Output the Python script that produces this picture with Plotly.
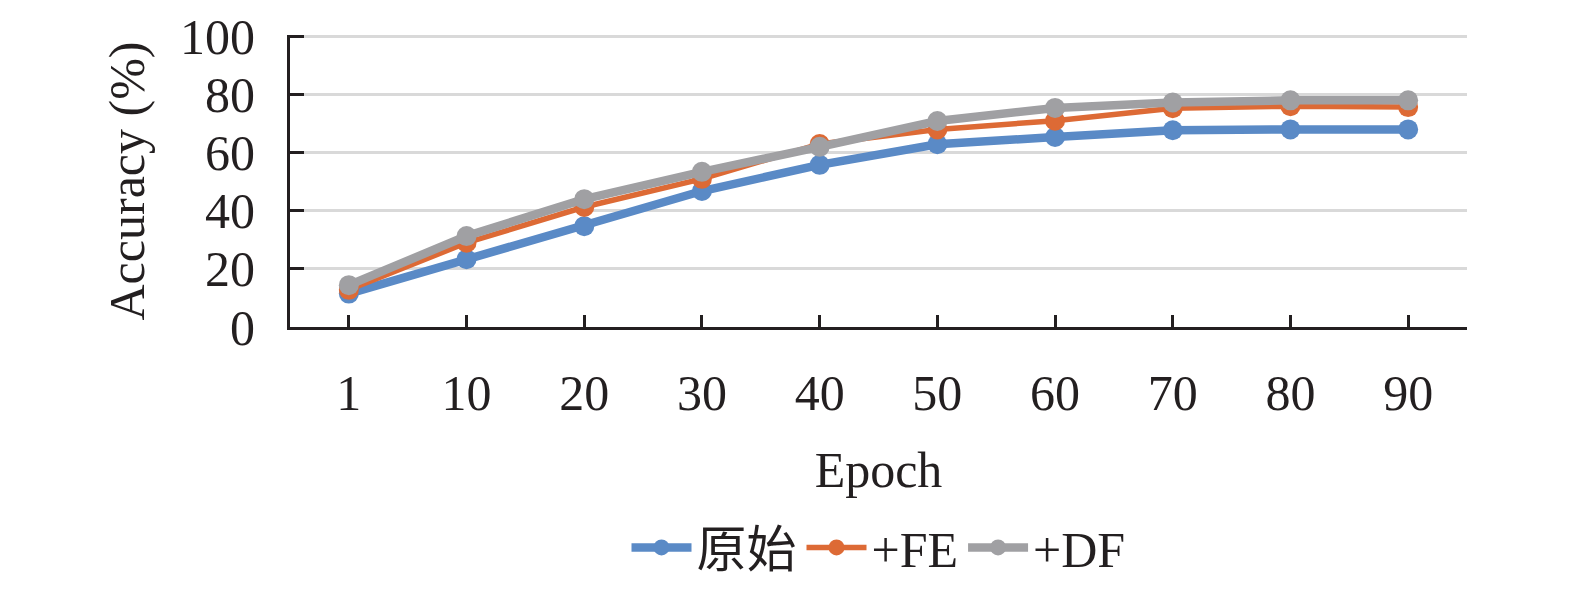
import plotly.graph_objects as go

# data
epochs = ['1', '10', '20', '30', '40', '50', '60', '70', '80', '90']
acc_raw = [11.5, 23.3, 34.7, 46.8, 55.8, 62.9, 65.4, 67.7, 68.0, 68.0]
acc_fe = [12.8, 29.0, 41.3, 51.0, 63.0, 68.0, 71.0, 75.3, 76.0, 75.7]
acc_df = [14.4, 31.3, 44.0, 53.4, 62.0, 70.9, 75.4, 77.3, 78.0, 78.0]

names = ['原始', '+FE', '+DF']
colors = ['#5A8AC6', '#DD6A35', '#A0A0A3']
widths = [8.5, 5.5, 8.5]

FONT = 'Liberation Serif, Times New Roman, Noto Sans CJK SC, serif'

fig = go.Figure()
for ys, name, c, w in zip([acc_raw, acc_fe, acc_df], names, colors, widths):
    fig.add_trace(go.Scatter(x=epochs, y=ys, name=name, mode='lines+markers',
                             line=dict(color=c, width=w),
                             marker=dict(color=c, size=20)))

# page body has an 8px margin, so the figure is a bit smaller than the window
fig.update_layout(
    width=1567, height=581,
    margin=dict(l=282, r=108, t=27, b=262, autoexpand=False),
    plot_bgcolor='white', paper_bgcolor='white',
    font=dict(family=FONT, size=50, color='#231F20'),
    showlegend=True,
    legend=dict(orientation='h', x=0.5, xanchor='center',
                y=-0.755, yanchor='middle',
                font=dict(size=50), itemwidth=60,
                tracegroupgap=0, bgcolor='rgba(0,0,0,0)'),
)
fig.update_xaxes(
    type='category', range=[-0.5, 9.5], automargin=False,
    showline=True, linecolor='#231F20', linewidth=3,
    ticks='inside', ticklen=12, tickwidth=3, tickcolor='#231F20',
    ticklabelstandoff=20, showgrid=False,
    title=dict(text='Epoch', standoff=32, font=dict(size=50)),
)
fig.update_yaxes(
    range=[0, 100.5], tickvals=[0, 20, 40, 60, 80, 100], automargin=False,
    showline=True, linecolor='#231F20', linewidth=3,
    ticks='inside', ticklen=14, tickwidth=3, tickcolor='#231F20',
    ticklabelstandoff=22, ticklabeloverflow='allow',
    showgrid=True, gridcolor='#D9D9D9', gridwidth=2.5,
    zeroline=False,
    title=dict(text='Accuracy (%)', standoff=20, font=dict(size=50)),
)

fig.write_html('out.html')
